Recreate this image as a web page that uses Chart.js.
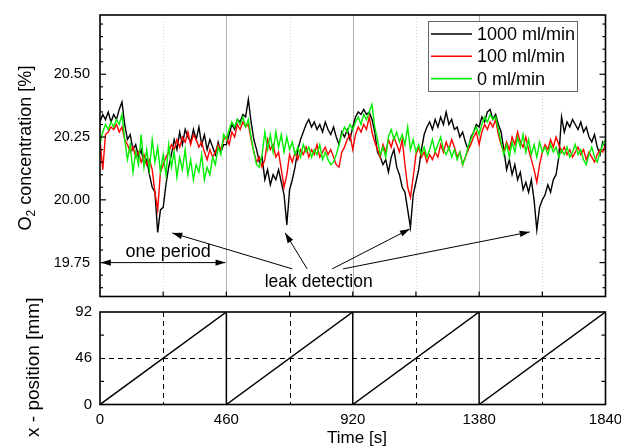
<!DOCTYPE html>
<html>
<head>
<meta charset="utf-8">
<script src="https://cdn.jsdelivr.net/npm/chart.js@4.4.0/dist/chart.umd.min.js"></script>
<style>
  html, body { margin: 0; padding: 0; background: #fff; }
  #wrap { position: relative; width: 621px; height: 447px; }
  canvas { position: absolute; left: 0; }
  #o2 { top: 0; }
  #pos { top: 285px; }
</style>
</head>
<body>
<div id="wrap">
  <canvas id="o2" width="621" height="300"></canvas>
  <canvas id="pos" width="621" height="162"></canvas>
</div>
<script>
// sample times [s]
const times = [
  0, 10, 20, 30, 40, 50, 60, 70, 80, 90, 100, 110, 120, 130, 140, 150, 160, 170, 180, 190,
  200, 210, 220, 230, 240, 250, 260, 270, 280, 290, 300, 310, 320, 330, 340, 350, 360, 370, 380, 390,
  400, 410, 420, 430, 440, 450, 460, 470, 480, 490, 500, 510, 520, 530, 540, 550, 560, 570, 580, 590,
  600, 610, 620, 630, 640, 650, 660, 670, 680, 690, 700, 710, 720, 730, 740, 750, 760, 770, 780, 790,
  800, 810, 820, 830, 840, 850, 860, 870, 880, 890, 900, 910, 920, 930, 940, 950, 960, 970, 980, 990,
  1000, 1010, 1020, 1030, 1040, 1050, 1060, 1070, 1080, 1090, 1100, 1110, 1120, 1130, 1140, 1150, 1160, 1170, 1180, 1190,
  1200, 1210, 1220, 1230, 1240, 1250, 1260, 1270, 1280, 1290, 1300, 1310, 1320, 1330, 1340, 1350, 1360, 1370, 1380, 1390,
  1400, 1410, 1420, 1430, 1440, 1450, 1460, 1470, 1480, 1490, 1500, 1510, 1520, 1530, 1540, 1550, 1560, 1570, 1580, 1590,
  1600, 1610, 1620, 1630, 1640, 1650, 1660, 1670, 1680, 1690, 1700, 1710, 1720, 1730, 1740, 1750, 1760, 1770, 1780, 1790,
  1800, 1810, 1820, 1830, 1840
];

// O2 concentration [%] per leak rate
const flow1000 = [
  20.31, 20.34, 20.32, 20.35, 20.31, 20.34, 20.32, 20.36, 20.39, 20.30, 20.24, 20.26, 20.20, 20.22, 20.17, 20.20, 20.14, 20.16, 20.10, 20.05,
  20.03, 19.87, 19.96, 19.97, 20.06, 20.13, 20.18, 20.24, 20.20, 20.27, 20.22, 20.28, 20.25, 20.23, 20.28, 20.24, 20.29, 20.22, 20.26, 20.20,
  20.24, 20.21, 20.18, 20.23, 20.19, 20.22,
  20.22, 20.26, 20.30, 20.28, 20.32, 20.31, 20.34, 20.33, 20.40, 20.31, 20.24, 20.20, 20.15, 20.17, 20.08, 20.12, 20.06, 20.10, 20.08, 20.12,
  20.07, 20.02, 19.90, 20.04, 20.08, 20.13, 20.20, 20.24, 20.27, 20.30, 20.32, 20.29, 20.31, 20.28, 20.30, 20.27, 20.31, 20.28, 20.26, 20.29,
  20.25, 20.22, 20.27, 20.25, 20.28, 20.24,
  20.29, 20.33, 20.35, 20.34, 20.36, 20.34, 20.35, 20.32, 20.27, 20.19, 20.17, 20.14, 20.16, 20.11, 20.17, 20.20, 20.13, 20.10, 20.05, 20.03,
  19.96, 19.89, 20.02, 20.07, 20.12, 20.20, 20.26, 20.29, 20.31, 20.28, 20.32, 20.29, 20.33, 20.30, 20.35, 20.30, 20.32, 20.28, 20.29, 20.25,
  20.27, 20.23, 20.20, 20.25, 20.27, 20.30,
  20.29, 20.33, 20.31, 20.35, 20.36, 20.32, 20.34, 20.30, 20.27, 20.20, 20.12, 20.16, 20.10, 20.14, 20.08, 20.11, 20.04, 20.07, 20.03, 20.08,
  20.00, 19.88, 19.97, 20.00, 20.02, 20.06, 20.03, 20.08, 20.10, 20.17, 20.33, 20.27, 20.31, 20.29, 20.32, 20.30, 20.28, 20.31, 20.27, 20.29,
  20.25, 20.23, 20.26, 20.21, 20.18, 20.23, 20.21
];
const flow100 = [
  20.24, 20.12, 20.26, 20.27, 20.29, 20.28, 20.30, 20.27, 20.29, 20.24, 20.22, 20.19, 20.21, 20.17, 20.19, 20.15, 20.18, 20.14, 20.16, 20.12,
  20.03, 19.96, 20.11, 20.14, 20.17, 20.19, 20.22, 20.20, 20.24, 20.21, 20.25, 20.23, 20.27, 20.22, 20.26, 20.24, 20.21, 20.23, 20.19, 20.16,
  20.20, 20.17, 20.19, 20.22, 20.20, 20.24,
  20.25, 20.22, 20.27, 20.25, 20.30, 20.28, 20.31, 20.29, 20.30, 20.24, 20.19, 20.15, 20.17, 20.13, 20.16, 20.24, 20.20, 20.22, 20.17, 20.19,
  20.12, 20.05, 20.10, 20.18, 20.15, 20.19, 20.16, 20.20, 20.18, 20.21, 20.17, 20.20, 20.18, 20.22, 20.17, 20.19, 20.21, 20.18, 20.20, 20.17,
  20.14, 20.13, 20.19, 20.21, 20.24, 20.26,
  20.20, 20.26, 20.29, 20.27, 20.30, 20.28, 20.33, 20.27, 20.23, 20.20, 20.17, 20.22, 20.19, 20.24, 20.21, 20.25, 20.22, 20.19, 20.24, 20.14,
  20.05, 20.01, 20.09, 20.18, 20.21, 20.17, 20.19, 20.15, 20.18, 20.16, 20.19, 20.17, 20.22, 20.19, 20.23, 20.20, 20.24, 20.21, 20.17, 20.19,
  20.14, 20.17, 20.20, 20.22, 20.25, 20.27,
  20.22, 20.27, 20.30, 20.28, 20.31, 20.29, 20.32, 20.26, 20.22, 20.19, 20.23, 20.20, 20.25, 20.22, 20.27, 20.23, 20.21, 20.25, 20.20, 20.16,
  20.12, 20.07, 20.14, 20.19, 20.22, 20.20, 20.24, 20.21, 20.25, 20.22, 20.19, 20.21, 20.18, 20.20, 20.17, 20.19, 20.21, 20.18, 20.20, 20.16,
  20.19, 20.17, 20.15, 20.18, 20.20, 20.19, 20.22
];
const flow0 = [
  20.22, 20.27, 20.30, 20.28, 20.31, 20.29, 20.32, 20.30, 20.34, 20.24, 20.16, 20.22, 20.11, 20.19, 20.14, 20.26, 20.13, 20.20, 20.12, 20.24,
  20.15, 20.21, 20.11, 20.18, 20.10, 20.22, 20.13, 20.19, 20.09, 20.17, 20.12, 20.20, 20.10, 20.16, 20.08, 20.14, 20.11, 20.18, 20.08, 20.13,
  20.10, 20.17, 20.14, 20.21, 20.18, 20.26,
  20.24, 20.28, 20.31, 20.29, 20.32, 20.30, 20.33, 20.29, 20.32, 20.25, 20.19, 20.14, 20.13, 20.18, 20.27, 20.20, 20.26, 20.19, 20.27, 20.21,
  20.26, 20.19, 20.25, 20.20, 20.23, 20.18, 20.21, 20.17, 20.22, 20.19, 20.21, 20.17, 20.20, 20.18, 20.22, 20.16, 20.19, 20.16, 20.14, 20.15,
  20.18, 20.22, 20.26, 20.29, 20.27, 20.30,
  20.28, 20.31, 20.33, 20.30, 20.34, 20.32, 20.35, 20.38, 20.29, 20.24, 20.18, 20.21, 20.17, 20.25, 20.28, 20.24, 20.27, 20.23, 20.26, 20.22,
  20.29, 20.20, 20.24, 20.19, 20.22, 20.18, 20.21, 20.17, 20.20, 20.24, 20.19, 20.22, 20.25, 20.20, 20.18, 20.21, 20.17, 20.20, 20.16, 20.19,
  20.14, 20.17, 20.21, 20.24, 20.27, 20.29,
  20.26, 20.30, 20.33, 20.31, 20.34, 20.32, 20.33, 20.28, 20.23, 20.18, 20.22, 20.17, 20.23, 20.19, 20.25, 20.21, 20.26, 20.19, 20.24, 20.18,
  20.22, 20.17, 20.23, 20.19, 20.21, 20.18, 20.22, 20.19, 20.21, 20.17, 20.20, 20.18, 20.21, 20.17, 20.19, 20.22, 20.18, 20.20, 20.16, 20.14,
  20.18, 20.21, 20.17, 20.15, 20.19, 20.22, 20.24
];
const seriesLabels = ['1000 ml/min', '100 ml/min', '0 ml/min'];
const seriesColors = ['#000000', '#ff0000', '#00ee00'];
const o2Ticks = [19.75, 20.00, 20.25, 20.50];

// scanner x-position [mm]
const posTimes = [0, 460, 460, 920, 920, 1380, 1380, 1840];
const posValues = [0, 92, 0, 92, 0, 92, 0, 92];
const posTicks = [0, 46, 92];
const timeTicks = [0, 460, 920, 1380, 1840];

const SANS = "'Liberation Sans', Arial, sans-serif";

function seg(ctx, x1, y1, x2, y2) {
  ctx.beginPath();
  ctx.moveTo(x1, y1);
  ctx.lineTo(x2, y2);
  ctx.stroke();
}

function head(ctx, x1, y1, x2, y2) {
  const a = Math.atan2(y2 - y1, x2 - x1), len = 10, w = 3.2;
  const bx = x2 - len * Math.cos(a), by = y2 - len * Math.sin(a);
  ctx.beginPath();
  ctx.moveTo(x2, y2);
  ctx.lineTo(bx + w * Math.sin(a), by - w * Math.cos(a));
  ctx.lineTo(bx - w * Math.sin(a), by + w * Math.cos(a));
  ctx.closePath();
  ctx.fill();
}

function arrow(chart, from, to, both) {
  const { ctx, scales: { x, y } } = chart;
  const x1 = x.getPixelForValue(from[0]), y1 = y.getPixelForValue(from[1]);
  const x2 = x.getPixelForValue(to[0]), y2 = y.getPixelForValue(to[1]);
  seg(ctx, x1, y1, x2, y2);
  head(ctx, x1, y1, x2, y2);
  if (both) head(ctx, x2, y2, x1, y1);
}

function frame(ctx, a) {
  ctx.save();
  ctx.strokeStyle = '#000';
  ctx.lineWidth = 1.6;
  ctx.setLineDash([]);
  ctx.strokeRect(a.left, a.top, a.right - a.left, a.bottom - a.top);
  ctx.restore();
}

// keep the plot box exactly where the axis widths put it
const noPad = s => { s.paddingTop = 0; s.paddingBottom = 0; s.paddingLeft = 0; s.paddingRight = 0; };

const o2Decor = {
  id: 'o2Decor',
  beforeDatasetsDraw(chart) {
    const { ctx, chartArea: a, scales: { x } } = chart;
    ctx.save();
    ctx.lineWidth = 1;
    for (let t = 230; t < 1840; t += 230) {
      const px = Math.round(x.getPixelForValue(t)) + 0.5;
      const major = t % 460 === 0;
      ctx.strokeStyle = major ? '#b0b0b0' : '#d4d4d4';
      ctx.setLineDash(major ? [] : [1, 2]);
      seg(ctx, px, a.top, px, a.bottom);
    }
    ctx.restore();
  },
  afterDatasetsDraw(chart) {
    const { ctx, chartArea: a, scales: { x, y } } = chart;
    frame(ctx, a);
    ctx.save();
    ctx.strokeStyle = '#000';
    ctx.lineWidth = 1.2;
    for (let k = 1965; k <= 2070; k += 5) {
      const py = y.getPixelForValue(k / 100);
      const len = k % 25 === 0 ? 6 : 3;
      seg(ctx, a.left, py, a.left + len, py);
      seg(ctx, a.right, py, a.right - len, py);
    }
    for (let t = 230; t < 1840; t += 230) {
      const px = x.getPixelForValue(t);
      seg(ctx, px, a.bottom, px, a.bottom - 5);
    }

    // axis title with subscript
    ctx.fillStyle = '#000';
    ctx.save();
    ctx.translate(31, 148);
    ctx.rotate(-Math.PI / 2);
    ctx.textBaseline = 'alphabetic';
    ctx.font = '18px ' + SANS;
    const wO = ctx.measureText('O').width;
    const rest = ' concentration [%]';
    const wR = ctx.measureText(rest).width;
    ctx.font = '12px ' + SANS;
    const w2 = ctx.measureText('2').width;
    const sx = -(wO + w2 + wR) / 2;
    ctx.font = '18px ' + SANS;
    ctx.fillText('O', sx, 0);
    ctx.font = '12px ' + SANS;
    ctx.fillText('2', sx + wO, 4);
    ctx.font = '18px ' + SANS;
    ctx.fillText(rest, sx + wO + w2, 0);
    ctx.restore();

    // legend
    ctx.fillStyle = '#fff';
    ctx.fillRect(428, 21, 149, 70);
    ctx.strokeStyle = '#666';
    ctx.lineWidth = 1;
    ctx.strokeRect(428.5, 21.5, 149, 70);
    ctx.font = '18px ' + SANS;
    ctx.textBaseline = 'middle';
    ctx.textAlign = 'left';
    seriesLabels.forEach((lab, i) => {
      const ly = 34 + i * 22.3;
      ctx.strokeStyle = seriesColors[i];
      ctx.lineWidth = 1.6;
      seg(ctx, 431, ly, 472, ly);
      ctx.fillStyle = '#000';
      ctx.fillText(lab, 477, ly + 1);
    });

    // annotations
    ctx.strokeStyle = '#000';
    ctx.fillStyle = '#000';
    ctx.lineWidth = 1;
    arrow(chart, [3, 19.75], [457, 19.75], true);
    arrow(chart, [700, 19.725], [263, 19.868]);
    arrow(chart, [754, 19.725], [674, 19.868]);
    arrow(chart, [845, 19.725], [1128, 19.884]);
    arrow(chart, [885, 19.725], [1564, 19.872]);
    ctx.textAlign = 'center';
    ctx.textBaseline = 'middle';
    ctx.font = '18px ' + SANS;
    ctx.fillText('one period', x.getPixelForValue(248), y.getPixelForValue(19.794));
    ctx.font = '17.5px ' + SANS;
    ctx.fillText('leak detection', x.getPixelForValue(796), y.getPixelForValue(19.674));
    ctx.restore();
  }
};

const posDecor = {
  id: 'posDecor',
  beforeDatasetsDraw(chart) {
    const { ctx, chartArea: a, scales: { x, y } } = chart;
    ctx.save();
    ctx.strokeStyle = '#000';
    ctx.lineWidth = 1;
    ctx.setLineDash([5, 4]);
    for (let t = 230; t < 1840; t += 460) {
      const px = Math.round(x.getPixelForValue(t)) + 0.5;
      seg(ctx, px, a.top, px, a.bottom);
    }
    const py = Math.round(y.getPixelForValue(46)) + 0.5;
    seg(ctx, a.left, py, a.right, py);
    ctx.restore();
  },
  afterDatasetsDraw(chart) {
    const { ctx, chartArea: a, scales: { y } } = chart;
    frame(ctx, a);
    ctx.save();
    ctx.strokeStyle = '#000';
    ctx.lineWidth = 1.2;
    [23, 69].forEach(v => {
      const py = y.getPixelForValue(v);
      seg(ctx, a.left, py, a.left + 4, py);
      seg(ctx, a.right, py, a.right - 4, py);
    });
    ctx.fillStyle = '#000';
    ctx.save();
    ctx.translate(39, (a.top + a.bottom) / 2 + 9);
    ctx.rotate(-Math.PI / 2);
    ctx.font = '19px ' + SANS;
    ctx.textAlign = 'center';
    ctx.textBaseline = 'alphabetic';
    ctx.fillText('x - position [mm]', 0, 0);
    ctx.restore();
    ctx.font = '17px ' + SANS;
    ctx.textAlign = 'center';
    ctx.textBaseline = 'middle';
    ctx.fillText('Time [s]', 357, a.bottom + 33.5);
    ctx.restore();
  }
};

const toPoints = (xs, ys) => xs.map((t, i) => ({ x: t, y: ys[i] }));

new Chart(document.getElementById('o2'), {
  type: 'line',
  data: {
    datasets: [flow1000, flow100, flow0].map((vals, i) => ({
      label: seriesLabels[i],
      data: toPoints(times, vals),
      borderColor: seriesColors[i],
      borderWidth: 1.4,
      pointRadius: 0,
      order: 3 - i
    }))
  },
  options: {
    responsive: false,
    animation: false,
    events: [],
    layout: { padding: { left: 0, right: 15.5, top: 15, bottom: 3.5 } },
    plugins: { legend: { display: false }, tooltip: { enabled: false } },
    scales: {
      x: {
        type: 'linear',
        min: 0,
        max: 1840,
        afterFit: s => { s.height = 0; noPad(s); },
        grid: { display: false, drawTicks: false },
        border: { display: false },
        ticks: { display: false }
      },
      y: {
        min: 19.615,
        max: 20.736,
        afterBuildTicks: s => { s.ticks = o2Ticks.map(v => ({ value: v })); },
        afterFit: s => { s.width = 100; noPad(s); },
        grid: { display: false, drawTicks: false },
        border: { display: false },
        ticks: {
          padding: 10,
          color: '#000',
          font: { family: SANS, size: 14.5 },
          callback: v => v.toFixed(2)
        }
      }
    }
  },
  plugins: [o2Decor]
});

new Chart(document.getElementById('pos'), {
  type: 'line',
  data: {
    datasets: [{
      data: toPoints(posTimes, posValues),
      borderColor: '#000',
      borderWidth: 1.5,
      pointRadius: 0
    }]
  },
  options: {
    responsive: false,
    animation: false,
    events: [],
    layout: { padding: { left: 0, right: 15.5, top: 27, bottom: 0 } },
    plugins: { legend: { display: false }, tooltip: { enabled: false } },
    scales: {
      x: {
        type: 'linear',
        min: 0,
        max: 1840,
        afterBuildTicks: s => { s.ticks = timeTicks.map(v => ({ value: v })); },
        afterFit: s => { s.height = 42.5; noPad(s); },
        grid: { display: false, drawTicks: false },
        border: { display: false },
        ticks: {
          padding: 6,
          maxRotation: 0,
          autoSkip: false,
          color: '#000',
          font: { family: SANS, size: 15 },
          callback: v => String(v)
        }
      },
      y: {
        min: 0,
        max: 92,
        afterBuildTicks: s => { s.ticks = posTicks.map(v => ({ value: v })); },
        afterFit: s => { s.width = 100; noPad(s); },
        grid: { display: false, drawTicks: false },
        border: { display: false },
        ticks: {
          padding: 8,
          color: '#000',
          font: { family: SANS, size: 15 },
          callback: v => String(v)
        }
      }
    }
  },
  plugins: [posDecor]
});
</script>
</body>
</html>
